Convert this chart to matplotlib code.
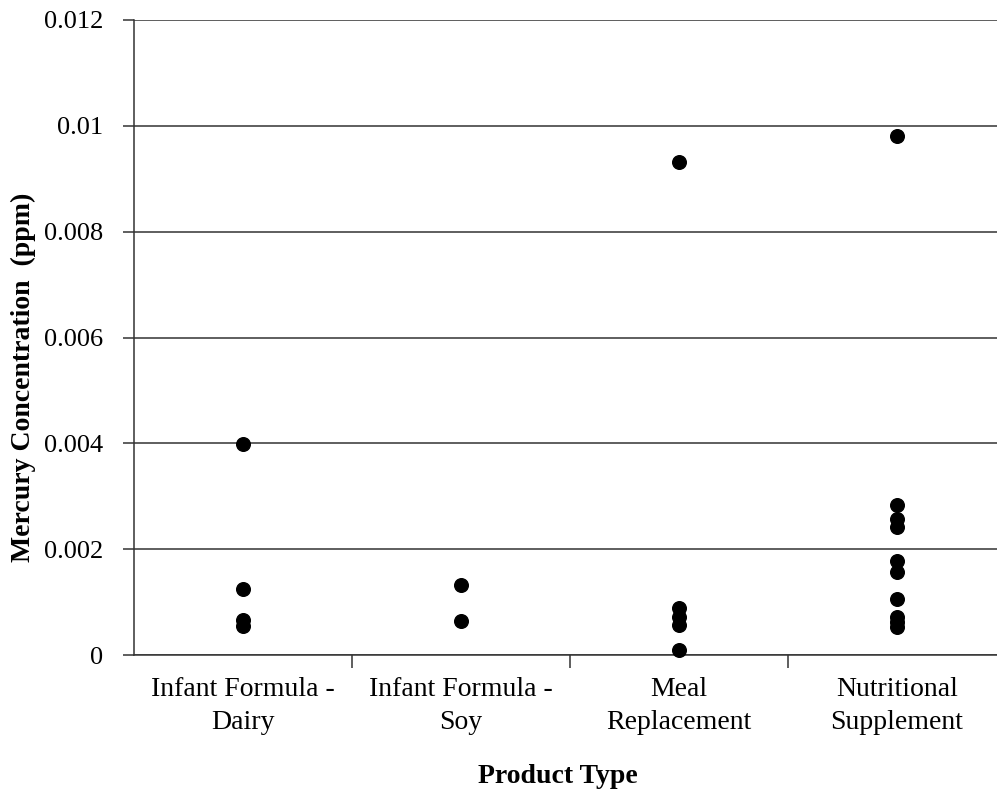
import numpy as np
from matplotlib import pyplot as plt

# product categories (two-line tick labels as in the source chart)
categories = ['Infant Formula -\nDairy', 'Infant Formula -\nSoy',
              'Meal\nReplacement', 'Nutritional\nSupplement']

# mercury concentration (ppm), one list per category
dairy = [0.00399, 0.00125, 0.00067, 0.00054]
soy = [0.00132, 0.00064]
meal = [0.00932, 0.00089, 0.00072, 0.00057, 0.0001]
supplement = [0.00981, 0.00283, 0.00257, 0.00242, 0.00178, 0.00157,
              0.00105, 0.00072, 0.00062, 0.00053]

groups = [dairy, soy, meal, supplement]

yticks = [0, 0.002, 0.004, 0.006, 0.008, 0.01, 0.012]
ytick_labels = ['0', '0.002', '0.004', '0.006', '0.008', '0.01', '0.012']

plt.rcParams['font.family'] = ['Liberation Serif', 'DejaVu Serif']

fig = plt.figure(figsize=(9.97, 7.96), dpi=100)
ax = fig.add_axes([0.1344, 0.1771, 0.8656, 0.7978])

for i, vals in enumerate(groups):
    ax.plot([i + 1] * len(vals), vals, 'o', color='black', markersize=9.8,
            zorder=3, clip_on=False)

ax.set_ylim(0, 0.012)
ax.set_xlim(0.5, 0.5 + 863 / 218)
ax.set_yticks(yticks)
ax.set_yticklabels(ytick_labels, fontsize=19)
ax.yaxis.grid(True, color='#333333', linewidth=1.1)
ax.set_axisbelow(True)

ax.set_xticks(np.arange(1, 5))
ax.set_xticklabels(categories, fontsize=20, linespacing=1.4)
ax.set_xticks([1.5, 2.5, 3.5], minor=True)
ax.tick_params(axis='x', which='major', length=0, pad=16)
ax.tick_params(axis='x', which='minor', length=9, width=1.1, color='#333333')
ax.tick_params(axis='y', length=8, width=1.1, color='#333333', pad=14)

for side in ['top', 'right']:
    ax.spines[side].set_visible(False)
for side in ['left', 'bottom']:
    ax.spines[side].set_color('#333333')
    ax.spines[side].set_linewidth(1.1)

ax.set_xlabel('Product Type', fontsize=20, fontweight='bold')
ax.xaxis.set_label_coords((558 - 134) / 863, (655 - 764) / 635)
ax.set_ylabel('Mercury Concentration  (ppm)', fontsize=20, fontweight='bold')
ax.yaxis.set_label_coords((36 - 134) / 863, (655 - 377) / 635)

fig.savefig('out.png', dpi=100)
